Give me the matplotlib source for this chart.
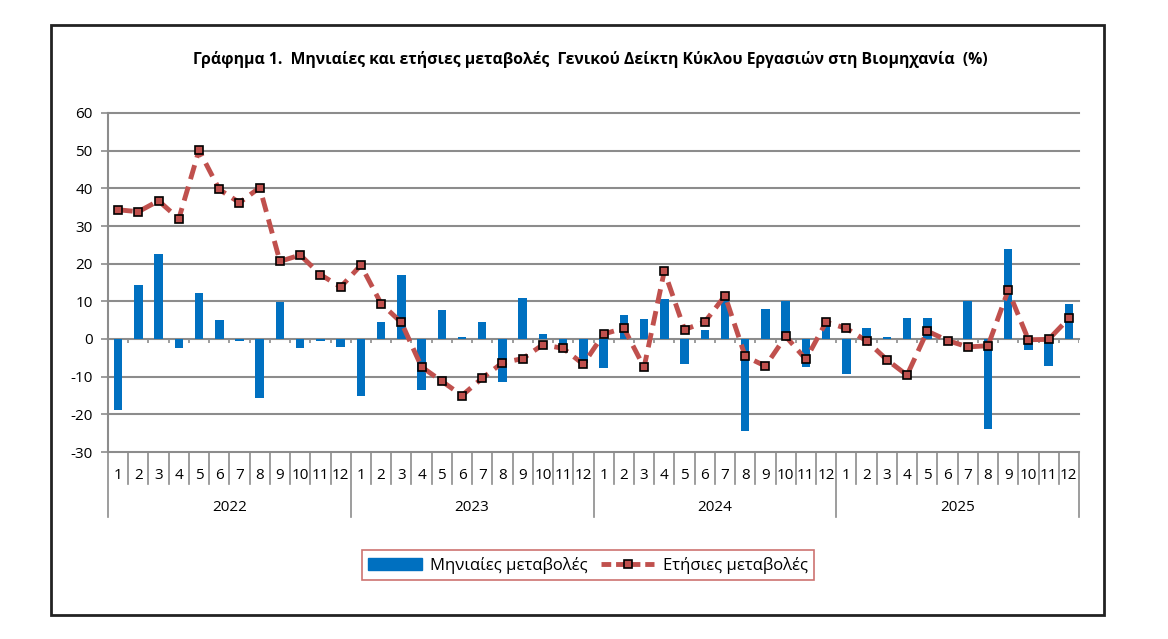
import numpy as np
from matplotlib import pyplot as plt
from matplotlib.patches import Rectangle
from matplotlib.lines import Line2D
from matplotlib.transforms import blended_transform_factory

years = ['2022', '2023', '2024', '2025']
months = [str(m) for m in range(1, 13)]

# monthly change (%)
monthly = [-18.9, 14.3, 22.6, -2.3, 12.2, 5.1, -0.5, -15.6, 9.8, -2.3, -0.5, -2.0,
           -15.2, 4.6, 17.1, -13.6, 7.6, 0.5, 4.6, -11.5, 10.9, 1.3, -2.4, -6.3,
           -7.8, 6.3, 5.2, 10.5, -6.6, 2.5, 10.5, -24.5, 8.0, 10.1, -7.4, 4.3,
           -9.4, 2.9, 0.4, 5.5, 5.5, -0.3, 10.0, -24.0, 23.8, -2.8, -7.3, 9.2]
# annual change (%)
annual = [34.3, 33.8, 36.7, 31.9, 50.1, 39.7, 36.2, 40.2, 20.6, 22.3, 17.1, 13.8,
          19.6, 9.4, 4.4, -7.4, -11.2, -15.0, -10.4, -6.3, -5.2, -1.5, -2.5, -6.7,
          1.3, 2.9, -7.5, 18.0, 2.5, 4.5, 11.5, -4.6, -7.2, 0.7, -5.4, 4.5,
          2.8, -0.5, -5.5, -9.6, 2.1, -0.4, -2.1, -1.8, 12.9, -0.2, -0.1, 5.5]

plt.rcParams['font.family'] = ['Open Sans', 'DejaVu Sans']
plt.rcParams['axes.unicode_minus'] = False
W, H = 1168, 639
fig = plt.figure(figsize=(W/100, H/100), dpi=100)
fig.patches.append(Rectangle((51/W, 1-615/H), (1104-51)/W, (615-25)/H, transform=fig.transFigure,
                             fill=False, ec='#222222', lw=2))

ax = fig.add_axes([108/W, 1-452/H, (1079-108)/W, (452-113)/H])
x = np.arange(len(monthly))
gridc = '#8c8c8c'

for v in range(-30, 61, 10):
    ax.axhline(v, color=gridc, lw=1.5, zorder=0, clip_on=False)

ax.bar(x, monthly, width=0.42, color='#0070C0', zorder=2, label='Μηνιαίες μεταβολές')
ax.plot(x, annual, color='#C0504D', lw=3.5, ls=(0, (3, 1.6)), marker='s', ms=5.5,
        mfc='#C0504D', mec='black', mew=1.2, zorder=3, label='Ετήσιες μεταβολές')

# small ticks on the zero line
ax.vlines(np.arange(-0.5, 48, 1), -1.1, 0, color=gridc, lw=1.2, zorder=1)

ax.set_xlim(-0.5, 47.5)
ax.set_ylim(-30, 60)
ax.set_yticks(range(-30, 61, 10))
ax.tick_params(axis='y', length=5, width=1.2, color=gridc, labelsize=11, pad=6)
ax.set_xticks([])
for s in ['top', 'right', 'bottom']:
    ax.spines[s].set_visible(False)
ax.spines['left'].set_color(gridc)
ax.spines['left'].set_linewidth(1.5)

# two level category axis
tr = blended_transform_factory(ax.transData, ax.transAxes)
for b in np.arange(-0.5, 48, 1):
    low = -0.192 if (b + 0.5) % 12 == 0 else -0.094
    ax.plot([b, b], [0, low], transform=tr, color=gridc, lw=1.2, clip_on=False)
for i in range(48):
    ax.text(i, -0.068, months[i % 12], transform=tr, ha='center', va='center', fontsize=11)
for j, yr in enumerate(years):
    ax.text(j*12 + 5.5, -0.165, yr, transform=tr, ha='center', va='center', fontsize=11)

fig.text(590/W, 1-60/H, 'Γράφημα 1.  Μηνιαίες και ετήσιες μεταβολές  Γενικού Δείκτη Κύκλου Εργασιών στη Βιομηχανία  (%)',
         ha='center', va='center', fontsize=11.3, fontweight='bold')

handles = [Rectangle((0, 0), 1, 1, color='#0070C0'),
           Line2D([], [], color='#C0504D', lw=3.5, ls=(0, (2, 1)), marker='s', ms=5.5,
                  mfc='#C0504D', mec='black', mew=1.2)]
leg = fig.legend(handles, ['Μηνιαίες μεταβολές', 'Ετήσιες μεταβολές'], loc='center',
                 bbox_to_anchor=(588/W, 1-565/H), ncol=2, fontsize=12, fancybox=False,
                 handlelength=3.2, columnspacing=0.8, handletextpad=0.5, borderpad=0.4)
leg.get_frame().set_edgecolor('#C0504D')
leg.get_frame().set_linewidth(1.2)

plt.savefig('out.png', dpi=100)
